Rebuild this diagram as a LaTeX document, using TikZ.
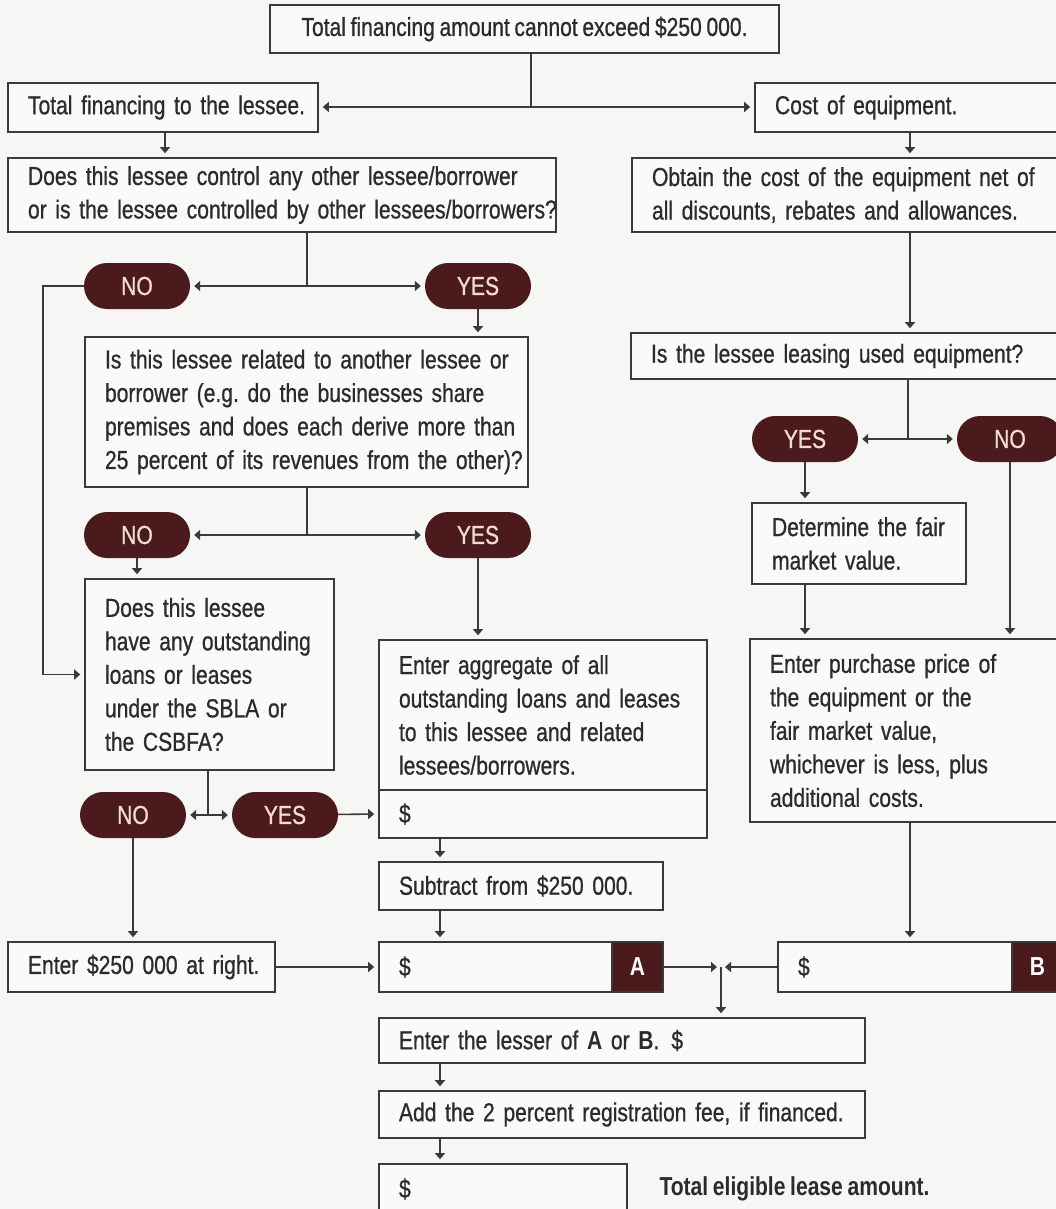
\documentclass[tikz,border=0pt]{standalone}
\usepackage{fontspec}
\setmainfont[FakeStretch=0.81, WordSpace=0.8, UprightFeatures={FakeBold=0.8}]{Liberation Sans}
\usetikzlibrary{arrows.meta,calc}
\frenchspacing

\definecolor{ink}{HTML}{2B2B2B}
\definecolor{rule}{HTML}{3A3A3A}
\definecolor{maroon}{HTML}{4B1A1C}
\definecolor{pilltext}{HTML}{F2DCD4}
\definecolor{paper}{HTML}{F6F6F4}
\definecolor{boxfill}{HTML}{FAFAF9}

% framed step: name, x1, y1, x2, y2, extra options, text
\newcommand\fbx[7]{%
  \pgfmathsetmacro\fbxw{#4-#2-40}%
  \pgfmathsetmacro\fbxh{#5-#3}%
  \node[box, text width=\fbxw pt, minimum height=\fbxh pt, #6] (#1)
    at ({(#2+#4)/2},{(#3+#5)/2}) {#7};}

\begin{document}
\begin{tikzpicture}[x=1pt,y=-1pt,
  every node/.style={font=\fontsize{26}{33.5}\selectfont},
  box/.style={draw=rule, fill=boxfill, line width=1.6pt, rectangle,
    inner xsep=20pt, inner ysep=0pt, align=left, text=ink},
  pill/.style={fill=maroon, rounded corners=23pt, minimum width=106pt,
    minimum height=46pt, inner sep=0pt, text=pilltext},
  tag/.style={fill=maroon, draw=rule, line width=1.6pt, minimum width=51pt,
    minimum height=50pt, inner sep=0pt, text=white,
    font=\fontsize{26}{30}\selectfont\bfseries},
  link/.style={draw=rule, line width=1.6pt},
  arr/.style={link, -{Triangle[length=6pt,width=10pt]}, shorten >=4pt},
]
\useasboundingbox (0,0) rectangle (1056,1209);
\fill[paper] (0,0) rectangle (1056,1209);
\clip (0,0) rectangle (1056,1209);

% ---- boxes ----
\node[box, minimum width=509pt, minimum height=48pt, align=center] (top) at (524.5,29)
  {\mbox{Total financing amount cannot exceed \$250 000.}};
\fbx{tfl}{8}{83}{318}{132}{}{\mbox{Total financing to the lessee.}}
\fbx{coe}{755}{83}{1120}{132}{}{\mbox{Cost of equipment.}}
\fbx{ctrl}{8}{158}{556}{232}{}{\mbox{Does this lessee control any other lessee/borrower}\\
  \mbox{or is the lessee controlled by other lessees/borrowers?}}
\fbx{obt}{632}{158}{1120}{232}{}{\mbox{Obtain the cost of the equipment net of}\\
  \mbox{all discounts, rebates and allowances.}}
\fbx{rel}{85}{337}{528}{487}{}{\mbox{Is this lessee related to another lessee or}\\
  \mbox{borrower (e.g. do the businesses share}\\
  \mbox{premises and does each derive more than}\\
  \mbox{25 percent of its revenues from the other)?}}
\fbx{have}{85}{579}{334}{770}{}{\mbox{Does this lessee}\\\mbox{have any outstanding}\\
  \mbox{loans or leases}\\\mbox{under the SBLA or}\\\mbox{the CSBFA?}}
\fbx{agg}{379}{640}{707}{790}{}{\mbox{Enter aggregate of all}\\
  \mbox{outstanding loans and leases}\\\mbox{to this lessee and related}\\
  \mbox{lessees/borrowers.}}
\fbx{aggd}{379}{790}{707}{838}{}{\$}
\fbx{sub}{379}{862}{663}{910}{}{\mbox{Subtract from \$250 000.}}
\fbx{abox}{379}{942}{663}{992}{}{\$}
\node[tag] (asq) at (637.5,967) {A};
\fbx{ent}{8}{942}{275}{992}{}{\mbox{Enter \$250 000 at right.}}
\fbx{used}{631}{333}{1120}{379}{}{\mbox{Is the lessee leasing used equipment?}}
\fbx{fair}{752}{503}{966}{584}{}{\mbox{Determine the fair}\\\mbox{market value.}}
\fbx{purch}{750}{639}{1120}{822}{}{\mbox{Enter purchase price of}\\
  \mbox{the equipment or the}\\\mbox{fair market value,}\\
  \mbox{whichever is less, plus}\\\mbox{additional costs.}}
\fbx{bbox}{778}{942}{1120}{992}{}{\$}
\node[tag] (bsq) at (1037.5,967) {B};
\fbx{lesser}{379}{1018}{865}{1063}{}{\mbox{Enter the lesser of \textbf{A} or \textbf{B}.\hspace{12pt}\$}}
\fbx{add}{379}{1091}{865}{1138}{}{\mbox{Add the 2 percent registration fee, if financed.}}
\fbx{tot}{379}{1164}{627}{1214}{}{\$}
\node[anchor=west, text=ink, font=\fontsize{26}{30}\selectfont\bfseries] (totlbl)
  at (656,1189) {Total eligible lease amount.};

% ---- yes / no pills ----
\node[pill] (no1)  at (137,286)  {NO};
\node[pill] (yes1) at (478,286)  {YES};
\node[pill] (no2)  at (137,535)  {NO};
\node[pill] (yes2) at (478,535)  {YES};
\node[pill] (no3)  at (133,815)  {NO};
\node[pill] (yes3) at (285,815)  {YES};
\node[pill] (yes4) at (805,439)  {YES};
\node[pill] (no4)  at (1010,439) {NO};

% ---- branch points and guide columns ----
\coordinate (j1) at (531,107);
\coordinate (s1) at (307,286);
\coordinate (s2) at (307,535);
\coordinate (s3) at (208,815);
\coordinate (s4) at (908,439);
\coordinate (j2) at (721,967);
\coordinate (xT) at (165,0);
\coordinate (xL) at (440,0);
\coordinate (xR) at (910,0);

% ---- connectors: left column ----
\draw[link] (top.south -| j1) -- (j1);
\draw[arr] (j1) -- (tfl.east |- j1);
\draw[arr] (j1) -- (coe.west |- j1);
\draw[arr] (tfl.south -| xT) -- (xT |- ctrl.north);
\draw[link] (ctrl.south -| s1) -- (s1);
\draw[arr] (s1) -- (no1);
\draw[arr] (s1) -- (yes1);
\draw[arr] (no1.west) -- ++(-41,0) |- (have.west);
\draw[arr] (yes1) -- (yes1 |- rel.north);
\draw[link] (rel.south -| s2) -- (s2);
\draw[arr] (s2) -- (no2);
\draw[arr] (s2) -- (yes2);
\draw[arr] (no2) -- (no2 |- have.north);
\draw[arr] (yes2) -- (yes2 |- agg.north);
\draw[link] (have.south -| s3) -- (s3);
\draw[arr] (s3) -- (no3);
\draw[arr] (s3) -- (yes3);
\draw[arr] (yes3) -- (aggd.west);
\draw[arr] (no3) -- (no3 |- ent.north);
\draw[arr] (ent.east) -- (abox.west);
\draw[arr] (aggd.south -| xL) -- (xL |- sub.north);
\draw[arr] (sub.south -| xL) -- (xL |- abox.north);

% ---- connectors: right column ----
\draw[arr] (coe.south -| xR) -- (xR |- obt.north);
\draw[arr] (obt.south -| xR) -- (xR |- used.north);
\draw[link] (used.south -| s4) -- (s4);
\draw[arr] (s4) -- (yes4);
\draw[arr] (s4) -- (no4);
\draw[arr] (yes4) -- (yes4 |- fair.north);
\draw[arr] (fair.south -| yes4) -- (yes4 |- purch.north);
\draw[arr] (no4) -- (no4 |- purch.north);
\draw[arr] (purch.south -| xR) -- (xR |- bbox.north);

% ---- totals ----
\draw[arr] (asq.east) -- (j2);
\draw[arr] (bbox.west) -- (j2);
\draw[arr] (j2) -- (j2 |- lesser.north);
\draw[arr] (lesser.south -| xL) -- (xL |- add.north);
\draw[arr] (add.south -| xL) -- (xL |- tot.north);
\end{tikzpicture}
\end{document}
